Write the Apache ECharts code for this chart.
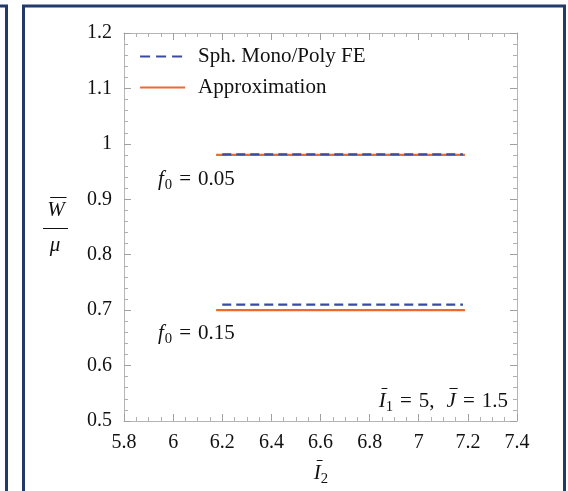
<!DOCTYPE html>
<html><head><meta charset="utf-8">
<script src="https://cdn.jsdelivr.net/npm/echarts@6/dist/echarts.min.js"></script>
<style>html,body{margin:0;padding:0;background:#fff}#c{width:568px;height:491px}</style>
</head><body><div id="c"></div>
<script>
// ---- data ----
const seriesNames = ['Sph. Mono/Poly FE', 'Approximation'];
const f0Labels = ['0.05', '0.15'];
const feI2 = [6.2, 7.18];          // start / end of FE curves
const feW = [0.981, 0.71];          // FE value for each f0
const apxI2 = [6.175, 7.188];       // start / end of approximation curves
const apxW = [0.98, 0.70];          // approximation value for each f0
const xTicks = [5.8, 6, 6.2, 6.4, 6.6, 6.8, 7, 7.2, 7.4];
const yTicks = [0.5, 0.6, 0.7, 0.8, 0.9, 1, 1.1, 1.2];
const I1Value = '5', JValue = '1.5';

// ---- style ----
const SERIF = '"Liberation Serif", "Times New Roman", serif';
const NAVY = '#223a6a';
const BLUE = '#3a4aa3';
const ORANGE = '#f0692a';
const TXT = '#111';
const FS = 20;
const FA = 21;

const ctx = document.createElement('canvas').getContext('2d');
function measure(t, size, it) { ctx.font = (it ? 'italic ' : '') + size + 'px ' + SERIF; return ctx.measureText(t).width; }
function mathText(parts, x, m, size, align) {
  const items = parts.map(p => {
    if (p.sp !== undefined) return { sp: true, w: p.sp };
    const s = p.sub ? size * 0.7 : size;
    return Object.assign({}, p, { s: s, w: measure(p.t, s, p.it) });
  });
  const total = items.reduce((a, b) => a + b.w, 0);
  let cx = align === 'right' ? x - total : align === 'center' ? x - total / 2 : x;
  const els = [];
  items.forEach(p => {
    if (p.sp) { cx += p.w; return; }
    const ym = p.sub ? m + size * 0.3 : m;
    els.push({ type: 'text', x: cx, y: ym, silent: true,
      style: { text: p.t, fontFamily: SERIF, fontSize: p.s, fontStyle: p.it ? 'italic' : 'normal',
               fill: TXT, verticalAlign: 'middle', align: 'left' } });
    if (p.over) {
      const sl = p.it ? p.s * 0.14 : 0;
      const oy = Math.round(m - size * 0.62) + 0.5;
      els.push({ type: 'line', silent: true, shape: { x1: cx + sl, y1: oy, x2: cx + p.w + sl * 0.6, y2: oy },
        style: { stroke: TXT, lineWidth: 1 } });
    }
    cx += p.w;
  });
  return els;
}

const graphics = [];
// panel frames
graphics.push({ type: 'rect', silent: true, shape: { x: -30, y: 6, width: 36.5, height: 520 },
  style: { fill: 'none', stroke: NAVY, lineWidth: 3 } });
graphics.push({ type: 'rect', silent: true, shape: { x: 23.5, y: 6, width: 541, height: 520 },
  style: { fill: 'none', stroke: NAVY, lineWidth: 3 } });
// y-axis title  W̄ / μ
graphics.push(...mathText([{ t: 'W', it: true, over: true }], 56, 210, FA, 'center'));
graphics.push({ type: 'line', silent: true, shape: { x1: 43, y1: 228.5, x2: 68, y2: 228.5 }, style: { stroke: TXT, lineWidth: 1 } });
graphics.push(...mathText([{ t: 'μ', it: true }], 55, 245, FA, 'center'));
// x-axis title  Ī2
graphics.push(...mathText([{ t: 'I', it: true, over: true }, { t: '2', sub: true }], 321, 473, FA, 'center'));
// f0 annotations
const f0Pos = [179, 333];
f0Labels.forEach((v, i) => {
  graphics.push(...mathText([{ t: 'f', it: true }, { sp: 1 }, { t: '0', sub: true }, { sp: 7 }, { t: '=' }, { sp: 7 }, { t: v }], 158, f0Pos[i], FA, 'left'));
});
// parameter annotation
graphics.push(...mathText([{ t: 'I', it: true, over: true }, { t: '1', sub: true }, { sp: 7 }, { t: '=' }, { sp: 7 }, { t: I1Value + ',' }, { sp: 12 },
  { t: 'J', it: true, over: true }, { sp: 7 }, { t: '=' }, { sp: 7 }, { t: JValue }], 508, 401, FA, 'right'));

// ---- series ----
const series = [];
apxW.forEach((w) => {
  series.push({ name: seriesNames[1], type: 'line', symbol: 'none', silent: true, z: 2,
    lineStyle: { color: ORANGE, width: 2.2, type: 'solid' }, itemStyle: { color: ORANGE },
    data: [[apxI2[0], w], [apxI2[1], w]] });
});
feW.forEach((w) => {
  series.push({ name: seriesNames[0], type: 'line', symbol: 'none', silent: true, z: 3,
    lineStyle: { color: BLUE, width: 2.2, type: [9, 5] }, itemStyle: { color: BLUE },
    data: [[feI2[0], w], [feI2[1], w]] });
});

const fmt = v => String(Number(v.toFixed(2)));
const axLine = { show: true, lineStyle: { color: '#b5b5b5', width: 1 } };
const tick = { show: true, inside: true, length: 7, lineStyle: { color: '#a0a0a0' } };
const minor = n => ({ show: true, splitNumber: n, length: 4, lineStyle: { color: '#b0b0b0' } });
const label = { fontFamily: SERIF, fontSize: FS, color: TXT };

const xBase = { type: 'value', min: xTicks[0], max: xTicks[xTicks.length - 1], interval: 0.2,
  axisLine: axLine, axisTick: tick, minorTick: minor(4), splitLine: { show: false } };
const yBase = { type: 'value', min: yTicks[0], max: yTicks[yTicks.length - 1], interval: 0.1,
  axisLine: axLine, axisTick: tick, minorTick: minor(5), splitLine: { show: false } };

const chart = echarts.init(document.getElementById('c'), null, { renderer: 'canvas' });
chart.setOption({
  animation: false,
  backgroundColor: '#fff',
  grid: { left: 124, right: 51, top: 33, bottom: 70, containLabel: false },
  xAxis: [
    Object.assign({}, xBase, { position: 'bottom', axisLabel: Object.assign({ margin: 12, formatter: fmt }, label) }),
    Object.assign({}, xBase, { position: 'top', axisLabel: { show: false } })
  ],
  yAxis: [
    Object.assign({}, yBase, { position: 'left', axisLabel: Object.assign({ margin: 12, formatter: fmt }, label) }),
    Object.assign({}, yBase, { position: 'right', axisLabel: { show: false } })
  ],
  legend: { orient: 'vertical', left: 139, top: 46, padding: 0, itemWidth: 45, itemHeight: 14, itemGap: 10,
    data: [
      { name: seriesNames[0], lineStyle: { color: BLUE, width: 2.2, type: [10, 6] } },
      { name: seriesNames[1], lineStyle: { color: ORANGE, width: 2.2, type: 'solid' } }
    ],
    selectedMode: false, itemStyle: { opacity: 0 },
    textStyle: { fontFamily: SERIF, fontSize: FA, color: TXT, lineHeight: 16, padding: [0, 0, 0, 8] } },
  series: series,
  graphic: graphics
});
</script></body></html>
